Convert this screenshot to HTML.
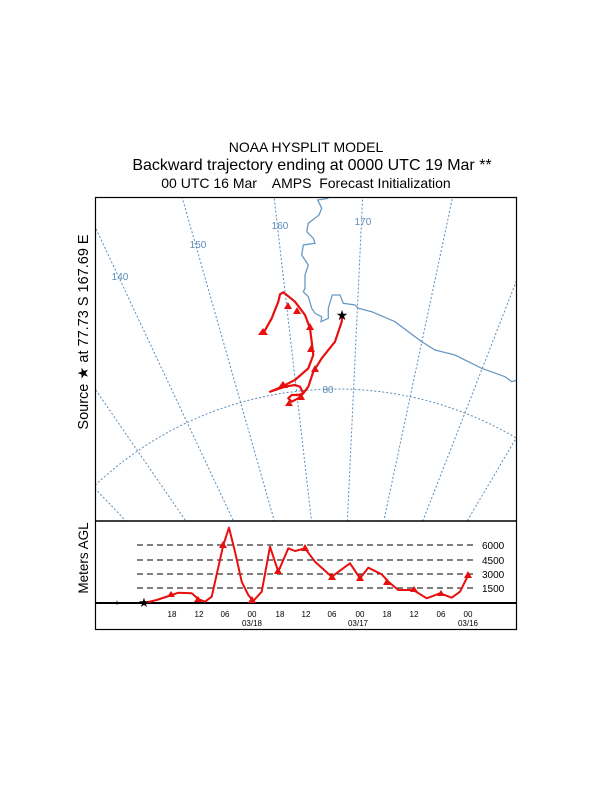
<!DOCTYPE html>
<html><head><style>html,body{margin:0;background:#fff;overflow:hidden;width:612px;height:792px}svg{display:block}text{font-family:"Liberation Sans",sans-serif}</style></head>
<body>
<svg width="612" height="792" viewBox="0 0 612 792" xmlns="http://www.w3.org/2000/svg">
<defs><clipPath id="m"><rect x="95" y="197" width="421" height="324"/></clipPath></defs>
<text x="306" y="152" font-size="14" text-anchor="middle">NOAA HYSPLIT MODEL</text>
<text x="312" y="170" font-size="16" text-anchor="middle">Backward trajectory ending at 0000 UTC 19 Mar **</text>
<text x="306" y="188" font-size="14" text-anchor="middle" xml:space="preserve">00 UTC 16 Mar    AMPS  Forecast Initialization</text>
<g clip-path="url(#m)" stroke="#5b8db8" stroke-width="1" fill="none" stroke-dasharray="2,2">
<circle cx="337" cy="741" r="352"/>
<g>
<line x1="337" y1="741" x2="337" y2="-400" transform="rotate(-52.9 337 741)"/>
<line x1="337" y1="741" x2="337" y2="-400" transform="rotate(-43.8 337 741)"/>
<line x1="337" y1="741" x2="337" y2="-400" transform="rotate(-34.5 337 741)"/>
<line x1="337" y1="741" x2="337" y2="-400" transform="rotate(-25.2 337 741)"/>
<line x1="337" y1="741" x2="337" y2="-400" transform="rotate(-15.9 337 741)"/>
<line x1="337" y1="741" x2="337" y2="-400" transform="rotate(-6.6 337 741)"/>
<line x1="337" y1="741" x2="337" y2="-400" transform="rotate(2.7 337 741)"/>
<line x1="337" y1="741" x2="337" y2="-400" transform="rotate(12 337 741)"/>
<line x1="337" y1="741" x2="337" y2="-400" transform="rotate(21.3 337 741)"/>
<line x1="337" y1="741" x2="337" y2="-400" transform="rotate(30.6 337 741)"/>
</g>
</g>
<g clip-path="url(#m)">
<polyline fill="none" stroke="#6a9ac4" stroke-width="1.3" points="328.3,198.3 317.7,200 321.7,208.3 319,215 308.3,223.3 306.7,231.7 313.3,238.3 315,243.3 303.3,245 301.7,255 308.3,265 305,275 305,288.3 303.3,291.7 308.3,296.7 311.7,308.3 315,313.3 321.7,316.7 321,321.7 328.3,318.3 328.3,308.3 332.3,295 340,295 343.3,303.3 355,305 358.3,308.3 371.7,311.7 395,321.7 408.3,331.7 421.7,341.7 435,350 455,355 481.7,368.3 505,376.7 511.7,381.7 517,380"/>
<polyline fill="none" stroke="#e8100f" stroke-width="2.2" stroke-linejoin="round" points="342.3,314.3 341.7,321.7 335,341.7 321.7,358.3 313.3,371.7 308.3,386.7 303.3,393.3 298.3,395 291.7,395 288.3,398.3 291.7,401.7 298.3,398.3 303.3,393.3 300,386.7 295,385 285,386.7 270,391.7 281.7,386.7 295,380 308.3,368.3 313.3,355 311.7,341.7 310,328.3 305,315 295,301.7 286.7,295 283.3,292.3 280,294.3 278.3,301.7 271.7,318.3 263.3,333.3"/>
<g fill="#e8100f">
<polygon points="263,328 268,335 258,335"/><polygon points="310,323 314,330 306,330"/><polygon points="311,345 315,352 307,352"/><polygon points="315,365 319,372 311,372"/><polygon points="283,381 288,388 278,388"/><polygon points="301,393 305,400 297,400"/><polygon points="289,400 293,406 285,406"/><polygon points="288,302 292,309 284,309"/><polygon points="297,307 301,314 293,314"/>
</g>
<text x="342" y="320" font-size="14" text-anchor="middle" fill="#000">★</text>
</g>
<g font-size="10" fill="#5b8db8" text-anchor="middle">
<text x="120" y="280">140</text><text x="198" y="248">150</text><text x="280" y="229">160</text><text x="363" y="225">170</text><text x="328" y="393">80</text>
</g>
<rect x="95.5" y="197.5" width="421" height="432" fill="none" stroke="#000" stroke-width="1.2"/>
<line x1="95" y1="521" x2="516" y2="521" stroke="#000" stroke-width="1.5"/>
<line x1="95" y1="603" x2="516" y2="603" stroke="#000" stroke-width="2"/>
<g stroke="#000" stroke-width="1" stroke-dasharray="6,4">
<line x1="137" y1="545" x2="475" y2="545"/><line x1="137" y1="560" x2="475" y2="560"/><line x1="137" y1="574" x2="475" y2="574"/><line x1="137" y1="588" x2="475" y2="588"/>
</g>
<g font-size="10" fill="#000">
<text x="482" y="549">6000</text><text x="482" y="564">4500</text><text x="482" y="578">3000</text><text x="482" y="592">1500</text>
</g>
<polyline fill="none" stroke="#e8100f" stroke-width="2" stroke-linejoin="round" points="145,602.7 156.7,600 171.7,595 178.3,592.7 191.7,593.3 198.3,599 205,601.7 211.7,596.7 223.3,545 229,527.7 235,551.7 241.7,581.7 248.3,595 253.3,601 261.7,591.7 270,546.7 278.3,571.7 288.3,548.3 295,551 305,548.3 315,561.7 331.7,576.7 350,563.3 360,578.3 368.3,567.7 381.7,574.3 388.3,581.7 398.3,590 413.3,590 426.7,598.3 440,593.3 451.7,597.7 460,591.7 468.3,575"/>
<g fill="#e8100f">
<polygon points="171,591 175,597 167,597"/><polygon points="198,596 202,602 194,602"/><polygon points="223,541 227,548 219,548"/><polygon points="252,596 256,603 248,603"/><polygon points="278,567 282,574 274,574"/><polygon points="305,544 309,551 301,551"/><polygon points="332,573 336,580 328,580"/><polygon points="360,574 364,581 356,581"/><polygon points="387,578 391,585 383,585"/><polygon points="414,586 418,592 410,592"/><polygon points="441,590 445,596 437,596"/><polygon points="468,571 472,578 464,578"/>
</g>
<text x="117" y="606" font-size="9" text-anchor="middle">+</text>
<text x="144" y="607" font-size="13" text-anchor="middle">★</text>
<g font-size="8" fill="#000" text-anchor="middle">
<text x="172" y="617">18</text><text x="199" y="617">12</text><text x="225" y="617">06</text><text x="252" y="617">00</text><text x="280" y="617">18</text><text x="306" y="617">12</text><text x="332" y="617">06</text><text x="360" y="617">00</text><text x="387" y="617">18</text><text x="414" y="617">12</text><text x="441" y="617">06</text><text x="468" y="617">00</text>
<text x="252" y="626">03/18</text><text x="358" y="626">03/17</text><text x="468" y="626">03/16</text>
</g>
<text transform="translate(88,332) rotate(-90)" font-size="14.5" text-anchor="middle">Source ★ at  77.73 S  167.69 E</text>
<text transform="translate(88,558) rotate(-90)" font-size="13.5" text-anchor="middle">Meters AGL</text>
</svg>
</body></html>
